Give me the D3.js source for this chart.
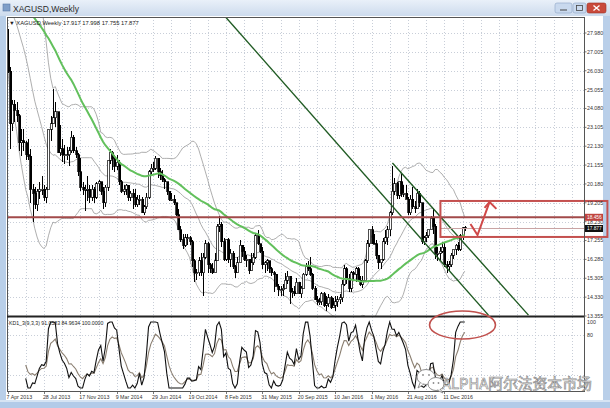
<!DOCTYPE html>
<html><head><meta charset="utf-8">
<script src="https://cdn.jsdelivr.net/npm/d3@7"></script>
<style>body{margin:0;background:#fff;}svg{display:block;}</style>
</head><body>
<svg id="c" width="610" height="408"></svg>
<script>
// ---------- DATA ----------
const symbolTitle = "XAGUSD,Weekly";
const legendText = "\u25BC XAGUSD,Weekly  17.917 17.998 17.755 17.877";
const kdText = "KD1_3(9,3,3) 91.0583 84.9634 100.0000";
// weekly closes before the first visible bar (for MA/Bands warm-up)
const priorCloses = [30.4,28.9,28.4,28.2,28.5,28.5,28.7,26.9,27.6,26.9,27.3,27.4,27.6,27.5,27.9,28.0,30.5,31.0,33.6,34.4,34.3,34.6,34.6,33.6,32.4,31.8,30.9,31.4,32.5,33.8,33.2,33.0,32.0,29.9,30.1,30.6,30.3,31.0,32.1,31.9,31.8,30.5,28.8,28.5,28.7,28.7,28.6,28.4,27.1];
// visible weekly bars, from 7 Apr 2013
const closes = [26.0,23.3,24.3,24.0,23.7,22.3,22.4,22.3,21.7,21.6,
19.9,19.7,19.1,19.8,19.9,19.9,19.5,19.9,23.0,23.3,
23.6,23.9,21.8,22.0,21.7,21.7,21.7,21.9,22.6,21.9,
21.7,20.8,20.0,19.9,19.9,19.9,19.5,19.9,19.5,20.2,
20.3,19.8,19.2,20.0,21.4,21.8,21.5,21.1,21.3,20.3,
19.8,19.9,20.1,19.5,19.7,19.5,19.1,19.4,19.4,18.7,
19.0,19.5,20.8,21.0,21.0,21.5,20.8,20.6,20.4,20.3,
19.8,19.4,19.4,19.2,18.6,17.8,17.3,17.0,17.4,17.4,
17.2,16.2,15.6,15.6,16.2,15.6,16.4,17.1,16.0,15.8,
15.6,16.2,18.0,18.1,17.2,16.3,17.3,16.3,16.6,15.9,
15.6,16.1,17.0,16.7,16.3,16.3,15.7,16.1,16.4,17.5,
17.1,16.7,16.0,16.1,16.2,15.8,15.6,15.5,14.9,14.7,
14.7,14.8,15.2,15.4,14.6,14.6,14.5,15.1,14.5,14.8,
15.5,15.9,15.8,15.5,14.8,14.2,14.1,14.1,14.5,13.9,
14.0,14.3,13.8,13.9,14.1,14.2,14.3,15.0,15.8,15.3,
14.8,15.6,15.5,15.8,15.2,15.0,15.2,16.2,17.1,17.8,
17.1,17.1,16.5,16.1,16.3,17.2,17.4,17.8,18.7,19.8,
20.2,19.6,20.3,19.7,19.7,19.4,18.7,19.4,19.0,18.9,
19.7,19.2,17.2,17.4,17.5,17.8,18.4,18.0,16.6,16.6,
16.7,16.9,16.0,15.9,16.0,16.5,16.8,17.0,16.8,17.5,
17.917,17.877];
const highs = [28.2,26.2,24.5,24.5,24.4,23.8,23.0,23.0,22.4,22.5,
22.0,20.2,20.0,19.9,20.3,20.6,20.1,20.0,23.0,23.7,
25.1,24.4,23.9,23.2,22.5,22.2,22.1,22.1,22.9,22.7,
22.1,21.8,21.5,20.3,20.1,20.6,20.1,20.1,20.0,20.3,
20.4,20.3,20.0,20.1,21.4,22.0,21.9,21.7,21.7,21.4,
20.4,20.1,20.2,20.1,19.8,19.9,19.9,19.6,19.6,19.5,
19.1,19.7,20.9,21.2,21.3,21.6,21.5,21.0,20.9,20.5,
20.3,19.8,19.7,19.6,19.2,18.9,18.0,17.6,17.6,17.6,
17.5,17.3,16.3,15.8,16.4,16.6,16.6,17.3,17.2,16.1,
16.1,16.6,18.1,18.5,18.2,17.4,17.3,17.4,16.8,16.7,
16.0,16.4,17.3,17.0,16.9,16.5,16.2,16.6,16.6,17.6,
17.8,17.1,16.9,16.2,16.3,16.2,15.9,15.7,15.5,15.0,
14.9,15.0,15.6,15.7,15.4,14.8,14.9,15.3,15.1,14.9,
15.6,16.1,16.2,16.4,15.6,14.9,14.4,14.3,14.6,14.6,
14.4,14.5,14.4,14.3,14.4,14.4,14.5,15.2,16.0,15.9,
15.5,15.7,15.7,15.9,15.9,15.4,15.4,16.3,17.3,17.8,
18.0,17.6,17.3,16.5,16.3,17.4,17.8,18.0,18.8,21.1,
20.5,20.3,20.3,20.7,20.1,20.1,19.5,19.6,20.0,19.3,
19.9,19.8,19.2,17.5,17.7,17.8,18.5,18.9,18.1,16.9,
16.9,17.2,17.2,16.2,16.2,16.6,16.8,17.1,17.2,17.6,
17.95,17.998];
const lows = [25.9,22.0,22.9,23.4,23.4,21.9,21.6,21.9,21.4,21.4,
19.2,18.2,18.9,18.8,19.4,19.6,19.3,19.2,19.9,22.4,
23.3,23.1,21.8,21.6,21.3,21.2,21.4,21.1,21.8,21.8,
21.5,20.6,19.8,19.6,18.8,19.3,19.2,19.3,19.2,19.4,
19.8,19.6,18.9,19.0,19.8,21.2,20.9,20.8,20.9,20.1,
19.7,19.6,19.6,19.3,19.3,18.9,19.0,19.0,19.1,18.7,
18.6,18.9,19.4,20.6,20.8,20.9,20.5,20.4,20.3,19.9,
19.6,19.3,19.3,19.1,18.5,17.8,17.2,16.8,16.9,17.0,
17.0,15.9,15.1,15.2,15.4,15.4,14.4,16.3,15.6,15.6,
15.5,15.6,16.2,17.7,16.9,16.2,16.2,16.1,15.9,15.8,
15.3,15.6,16.1,16.4,16.2,15.9,15.5,15.7,16.0,16.3,
17.0,16.6,15.8,15.6,15.7,15.6,15.4,14.6,14.9,14.4,
14.4,14.4,14.8,15.0,14.0,14.3,14.4,14.5,14.5,14.3,
14.8,15.4,15.7,15.4,14.7,14.2,13.9,13.9,13.9,13.8,
13.6,13.8,13.7,13.8,13.6,13.8,14.0,14.1,14.9,15.0,
14.6,14.6,15.2,15.1,15.1,14.9,14.8,15.2,16.1,16.9,
17.1,17.0,16.3,15.8,15.8,16.2,17.1,17.0,17.5,18.6,
19.6,19.4,19.4,19.5,19.5,19.4,18.6,18.6,18.9,18.7,
18.9,19.0,17.1,17.0,17.2,17.4,17.8,17.6,16.3,16.2,
16.2,16.6,15.9,15.6,15.7,15.9,16.3,16.5,16.7,16.7,
17.3,17.755];
const dateLabels = ["7 Apr 2013","28 Jul 2013","17 Nov 2013","9 Mar 2014","29 Jun 2014","19 Oct 2014","8 Feb 2015","31 May 2015","20 Sep 2015","10 Jan 2016","1 May 2016","21 Aug 2016","11 Dec 2016"];
const priceLabels = ["13.355","14.330","15.305","16.280","17.255","18.230","19.205","20.180","21.155","22.130","23.105","24.080","25.055","26.030","27.005","27.980"];
const kdLabels = ["100","80"];
const levelPrice = 18.456;
const lastPrice = 17.877;
// annotations in (bar index, price) units
const longTrend = [[92.9,29.2],[211.4,13.40]];
const channelTrend = [[169.2,21.26],[229,13.40]];
const boxZone = {i0:190.3, i1:263.7, p0:19.30, p1:17.44};
const checkPath = [[203.5,18.11],[206.6,17.54],[211.9,19.25]];
const checkWings = [[209.7,18.94],[211.9,19.25],[214.9,18.89]];
const kdEllipse = {i:200, v:95.5, ri:14.5, rv:21.2};
const watermark = "ALPHA\u963F\u5C14\u6CD5\u8D44\u672C\u5E02\u573A";

// ---------- LAYOUT ----------
const L=7, R=584, T=17, MB=316, KT=317, KB=391;
const svg = d3.select("#c");
const x = d3.scaleLinear().domain([0,1]).range([7.5, 9.775]);
const yP = d3.scaleLinear().domain([13.355, 27.98]).range([316, 33]);
const yK = d3.scaleLinear().domain([0,100]).range([388, 322]);
const font = "'Liberation Sans', Arial, sans-serif";

// window chrome
const defs = svg.append("defs");
const g1 = defs.append("linearGradient").attr("id","tb").attr("x1",0).attr("y1",0).attr("x2",0).attr("y2",1);
g1.append("stop").attr("offset","0").attr("stop-color","#e9f0f9");
g1.append("stop").attr("offset","1").attr("stop-color","#cddbed");
defs.append("clipPath").attr("id","cm").append("rect").attr("x",L).attr("y",T).attr("width",R-L).attr("height",MB-T);
defs.append("clipPath").attr("id","ck").append("rect").attr("x",L).attr("y",KT).attr("width",R-L).attr("height",KB-KT);

svg.append("rect").attr("width",610).attr("height",408).attr("fill","#fff");
svg.append("rect").attr("x",0).attr("y",0).attr("width",610).attr("height",16).attr("fill","url(#tb)");
svg.append("rect").attr("x",0).attr("y",16).attr("width",6).attr("height",392).attr("fill","#b9cfe9");
svg.append("rect").attr("x",603).attr("y",16).attr("width",7).attr("height",392).attr("fill","#b9cfe9");
svg.append("rect").attr("x",0).attr("y",400).attr("width",610).attr("height",8).attr("fill","#b3cbe8");
svg.append("rect").attr("x",0).attr("y",400).attr("width",610).attr("height",2).attr("fill","#d7e4f3");
svg.append("rect").attr("x",3).attr("y",4).attr("width",7).attr("height",7).attr("fill","#7f9ec8").attr("stroke","#5a7aa8").attr("stroke-width",0.6);
svg.append("text").attr("x",13).attr("y",11.5).attr("font-family",font).attr("font-size",8.5).attr("fill","#2a2a2a").text(symbolTitle);
// buttons
[[555,17],[573,13]].forEach(b=>{
  svg.append("rect").attr("x",b[0]).attr("y",3).attr("width",b[1]).attr("height",10).attr("rx",2)
    .attr("fill","#c9d9ee").attr("stroke","#8ea6c6").attr("stroke-width",0.6);
});
svg.append("line").attr("x1",560).attr("x2",567).attr("y1",10).attr("y2",10).attr("stroke","#444").attr("stroke-width",1);
svg.append("rect").attr("x",576.5).attr("y",5.5).attr("width",6).attr("height",5).attr("fill","none").attr("stroke","#444").attr("stroke-width",0.8);
svg.append("rect").attr("x",587).attr("y",3).attr("width",19).attr("height",10).attr("rx",2).attr("fill","#c94a3c").attr("stroke","#9a3024").attr("stroke-width",0.6);
svg.append("path").attr("d","M593.5,5.5L599.5,10.5M599.5,5.5L593.5,10.5").attr("stroke","#fff").attr("stroke-width",1.3);

// ---------- GRID ----------
const grid = svg.append("g").attr("stroke","#c8ced8").attr("stroke-width",1).attr("stroke-dasharray","1,2").attr("shape-rendering","crispEdges");
const vIdx = d3.range(0, 260, 8).filter(i => x(i) < R);
grid.selectAll(".vg").data(vIdx).join("line")
  .attr("x1",d=>Math.round(x(d))+0.5).attr("x2",d=>Math.round(x(d))+0.5).attr("y1",T).attr("y2",KB);
grid.selectAll(".hg").data(priceLabels.slice(1)).join("line")
  .attr("x1",L).attr("x2",R).attr("y1",d=>Math.round(yP(+d))+0.5).attr("y2",d=>Math.round(yP(+d))+0.5);
grid.selectAll(".kg").data([80,20]).join("line")
  .attr("x1",L).attr("x2",R).attr("y1",d=>Math.round(yK(d))+0.5).attr("y2",d=>Math.round(yK(d))+0.5);

// ---------- INDICATORS ----------
const allC = priorCloses.concat(closes);
const off = priorCloses.length;
function sma(n, i){ const a = allC.slice(off+i-n+1, off+i+1); return d3.mean(a); }
function sd(n, i){ const a = allC.slice(off+i-n+1, off+i+1); const m = d3.mean(a); return Math.sqrt(d3.mean(a, v=>(v-m)*(v-m))); }
const idx = d3.range(closes.length);
const ma50 = idx.map(i => [i, sma(50,i)]);
const bbMid = idx.map(i => [i, sma(20,i)]);
const bbUp = idx.map(i => [i, sma(20,i) + 2*sd(20,i)]);
const bbLo = idx.map(i => [i, sma(20,i) - 2*sd(20,i)]);

const main = svg.append("g").attr("clip-path","url(#cm)");
const lineP = d3.line().x(d=>x(d[0])).y(d=>yP(d[1]));
[bbUp,bbMid,bbLo].forEach(s=>{
  main.append("path").attr("d",lineP(s)).attr("fill","none").attr("stroke","#999").attr("stroke-width",0.8);
});

// candles
const opens = idx.map(i => i===0 ? priorCloses[priorCloses.length-1] : closes[i-1]);
const cg = main.append("g").attr("shape-rendering","crispEdges");
idx.forEach(i=>{
  const o=opens[i], c=closes[i];
  const h=Math.max(highs[i],o,c), l=Math.min(lows[i],o,c);
  const cx=Math.round(x(i))+0.5;
  cg.append("line").attr("x1",cx).attr("x2",cx).attr("y1",yP(h)).attr("y2",yP(l)).attr("stroke","#000").attr("stroke-width",1);
  const top=yP(Math.max(o,c)), bh=Math.max(1,Math.abs(yP(o)-yP(c)));
  cg.append("rect").attr("x",cx-1).attr("y",top).attr("width",2).attr("height",bh)
    .attr("fill", c<o ? "#000" : "#fff").attr("stroke","#000").attr("stroke-width",0.7);
});

main.append("path").attr("d",lineP(ma50)).attr("fill","none").attr("stroke","#62c05c").attr("stroke-width",2);

// trend lines
[longTrend, channelTrend].forEach(t=>{
  main.append("path").attr("d",lineP(t)).attr("fill","none").attr("stroke","#1f5a22").attr("stroke-width",1.4);
});
// level line
main.append("line").attr("x1",L).attr("x2",R).attr("y1",yP(levelPrice)).attr("y2",yP(levelPrice)).attr("stroke","#a24a4a").attr("stroke-width",2);
main.append("line").attr("x1",x(boxZone.i0)).attr("x2",R).attr("y1",yP(lastPrice)).attr("y2",yP(lastPrice)).attr("stroke","#c9a3a3").attr("stroke-width",1);

// box zone (extends over axis)
svg.append("rect").attr("x",x(boxZone.i0)).attr("y",yP(boxZone.p0))
  .attr("width",x(boxZone.i1)-x(boxZone.i0)).attr("height",yP(boxZone.p1)-yP(boxZone.p0))
  .attr("fill","none").attr("stroke","#c4504f").attr("stroke-width",2);
svg.append("path").attr("d",lineP(checkPath)).attr("fill","none").attr("stroke","#d04848").attr("stroke-width",2).attr("stroke-linejoin","miter");
svg.append("path").attr("d",lineP(checkWings)).attr("fill","none").attr("stroke","#d04848").attr("stroke-width",2);

// ---------- KD ----------
const K=[],D=[],J=[];
let k=50,dd=50;
idx.forEach(i=>{
  if(i<8){return;}
  const hh=d3.max(highs.slice(i-8,i+1)), ll=d3.min(lows.slice(i-8,i+1));
  const rsv = hh===ll?50:(closes[i]-ll)/(hh-ll)*100;
  k = 2/3*k + rsv/3; dd = 2/3*dd + k/3;
  K.push([i,k]); D.push([i,dd]); J.push([i, Math.max(0,Math.min(100,3*k-2*dd))]);
});
const kg = svg.append("g").attr("clip-path","url(#ck)");
const lineK = d3.line().x(d=>x(d[0])).y(d=>yK(d[1]));
kg.append("path").attr("d",lineK(K)).attr("fill","none").attr("stroke","#8a7e70").attr("stroke-width",1.1);
kg.append("path").attr("d",lineK(J)).attr("fill","none").attr("stroke","#111").attr("stroke-width",1.1);

// ---------- FRAME & AXES ----------
svg.append("rect").attr("x",L+0.5).attr("y",T+0.5).attr("width",R-L).attr("height",KB-T).attr("fill","none").attr("stroke","#555").attr("stroke-width",1);
svg.append("line").attr("x1",L).attr("x2",R).attr("y1",MB+0.5).attr("y2",MB+0.5).attr("stroke","#222").attr("stroke-width",2);

const ax = svg.append("g").attr("font-family",font).attr("font-size",5.3).attr("fill","#333");
ax.selectAll(".pl").data(priceLabels).join("text").attr("x",587).attr("y",d=>yP(+d)+1.9).text(d=>d);
svg.selectAll(".pt").data(priceLabels).join("line").attr("x1",R).attr("x2",R+2.5).attr("y1",d=>yP(+d)).attr("y2",d=>yP(+d)).attr("stroke","#555").attr("stroke-width",0.8);
ax.selectAll(".kl").data(kdLabels).join("text").attr("x",587).attr("y",d=>yK(+d)+1.9).text(d=>d);
ax.selectAll(".dl").data(dateLabels).join("text").attr("x",(d,i)=>x(i*16)-1).attr("y",398.5).text(d=>d);
svg.selectAll(".dt").data(dateLabels).join("line").attr("x1",(d,i)=>Math.round(x(i*16))+0.5).attr("x2",(d,i)=>Math.round(x(i*16))+0.5).attr("y1",KB).attr("y2",KB+3).attr("stroke","#555").attr("stroke-width",0.8);

// price tags
function tag(p, bg){
  svg.append("rect").attr("x",585).attr("y",yP(p)-3.5).attr("width",18).attr("height",7).attr("fill",bg);
  svg.append("text").attr("x",587).attr("y",yP(p)+1.6).attr("font-family",font).attr("font-size",4.8).attr("fill","#fff").text(p.toFixed(3));
}
tag(levelPrice,"#c0443f");
tag(lastPrice,"#111");

// legends
svg.append("text").attr("x",9).attr("y",25).attr("font-family",font).attr("font-size",5.8).attr("fill","#222").text(legendText);
svg.append("text").attr("x",9).attr("y",325).attr("font-family",font).attr("font-size",5.2).attr("fill","#222").text(kdText);

// KD ellipse
svg.append("ellipse").attr("cx",x(kdEllipse.i)).attr("cy",yK(kdEllipse.v))
  .attr("rx",x(kdEllipse.i+kdEllipse.ri)-x(kdEllipse.i)).attr("ry",yK(kdEllipse.v-kdEllipse.rv)-yK(kdEllipse.v))
  .attr("fill","none").attr("stroke","#c0504d").attr("stroke-width",1.6);

// ---------- WATERMARK ----------
svg.append("text").attr("x",442).attr("y",389).attr("font-family","'Noto Sans CJK SC', sans-serif")
  .attr("font-size",14.8)
  .attr("fill","#fff").attr("fill-opacity",0.85).attr("stroke","#8d8d8d").attr("stroke-width",0.7).text(watermark);
const wi = svg.append("g").attr("fill","#fff").attr("stroke","#8d8d8d").attr("stroke-width",1);
wi.append("ellipse").attr("cx",426).attr("cy",377).attr("rx",9).attr("ry",7.5);
wi.append("path").attr("d","M420,383 L418,388 L424,384").attr("fill","#fff");
wi.append("ellipse").attr("cx",436).attr("cy",384).attr("rx",8).attr("ry",6.5);
wi.append("path").attr("d","M440,389 L443,393 L437,390").attr("fill","#fff");
[[423,375],[429,375],[433.5,383],[438.5,383]].forEach(p=>wi.append("circle").attr("cx",p[0]).attr("cy",p[1]).attr("r",0.9).attr("fill","#8d8d8d").attr("stroke","none"));
</script>
</body></html>
